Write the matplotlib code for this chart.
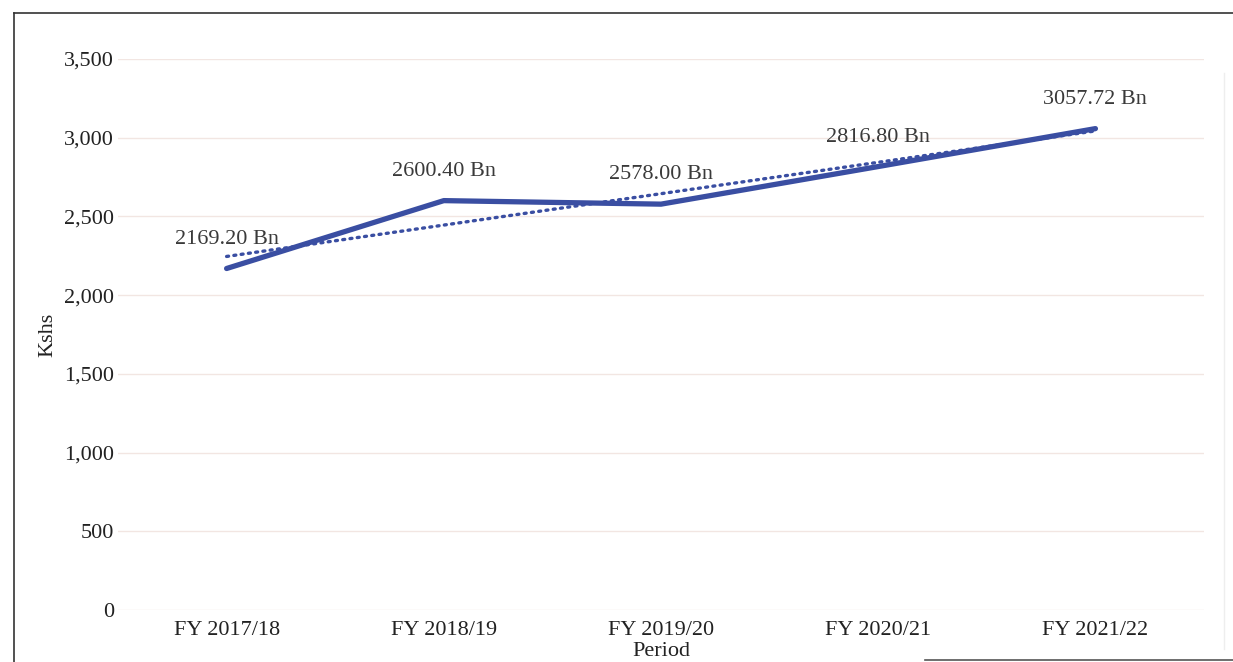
import matplotlib.pyplot as plt
import numpy as np
from matplotlib.lines import Line2D

periods = ['FY 2017/18', 'FY 2018/19', 'FY 2019/20', 'FY 2020/21', 'FY 2021/22']
values = [2169.20, 2600.40, 2578.00, 2816.80, 3057.72]
yticks = [0, 500, 1000, 1500, 2000, 2500, 3000, 3500]

plt.rcParams['font.family'] = ['Liberation Serif', 'DejaVu Serif']

fig = plt.figure(figsize=(12.33, 6.62), dpi=100)
ax = fig.add_axes([0.0957, 0.0785, 0.8808, 0.8324])

x = np.arange(len(periods))
blue = '#3a4ea2'

# linear trendline
k, b = np.polyfit(x, values, 1)
ax.plot(x, k * x + b, color=blue, lw=2.4, ls=(0, (0.6, 1.6)), dash_capstyle='round', zorder=2)
ax.plot(x, values, color=blue, lw=3.8, solid_capstyle='round', solid_joinstyle='round', zorder=3)

for xi, v in zip(x, values):
    ax.annotate(f'{v:.2f} Bn', (xi, v), xytext=(0, 21), textcoords='offset points',
                ha='center', va='center', fontsize=16, color='#3a3a3a')

ax.set_xlim(-0.5, 4.5)
ax.set_ylim(0, 3500)
ax.set_xticks(x)
ax.set_xticklabels(periods)
ax.set_yticks(yticks)
ax.set_yticklabels([f'{t:,}' for t in yticks])
ax.tick_params(length=0, labelsize=16, colors='#222222')
ax.tick_params(axis='x', pad=8)
ax.tick_params(axis='y', pad=3)
ax.grid(axis='y', color='#f2e6e2', lw=1)
ax.set_axisbelow(True)
for s in ax.spines.values():
    s.set_visible(False)

ax.set_ylabel('Kshs', fontsize=16, color='#222222', labelpad=5)
ax.set_xlabel('Period', fontsize=16, color='#222222', labelpad=1)

# scanned box border
fig.add_artist(Line2D([0.011, 1.0], [0.981, 0.981], transform=fig.transFigure, color='#333333', lw=1.2))
fig.add_artist(Line2D([0.011, 0.011], [0.0, 0.981], transform=fig.transFigure, color='#333333', lw=1.2))
fig.add_artist(Line2D([0.75, 1.0], [0.003, 0.003], transform=fig.transFigure, color='#555555', lw=1.2))
fig.add_artist(Line2D([0.993, 0.993], [0.02, 0.89], transform=fig.transFigure, color='#eeeeee', lw=1))

fig.savefig('out.png', dpi=100)
